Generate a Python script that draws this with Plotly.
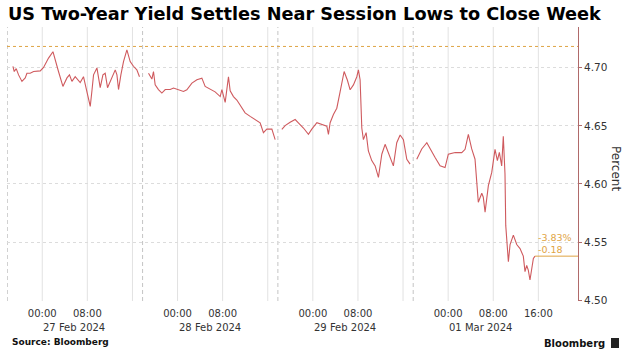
import plotly.graph_objects as go

title = "US Two-Year Yield Settles Near Session Lows to Close Week"

s1_time = ["2024-02-26 18:48","2024-02-26 19:02","2024-02-26 19:23","2024-02-26 19:48","2024-02-26 20:24","2024-02-26 20:59","2024-02-26 21:17","2024-02-26 21:52","2024-02-26 22:28","2024-02-26 23:39",
           "2024-02-27 00:14","2024-02-27 01:07","2024-02-27 01:54","2024-02-27 02:18","2024-02-27 02:53","2024-02-27 03:40","2024-02-27 04:23","2024-02-27 04:50","2024-02-27 05:16","2024-02-27 05:51",
           "2024-02-27 06:44","2024-02-27 07:19","2024-02-27 07:48","2024-02-27 08:13","2024-02-27 08:31","2024-02-27 08:49","2024-02-27 09:06","2024-02-27 09:42","2024-02-27 10:17","2024-02-27 10:46",
           "2024-02-27 11:10","2024-02-27 11:35","2024-02-27 12:04","2024-02-27 12:32","2024-02-27 12:57","2024-02-27 13:15","2024-02-27 13:32","2024-02-27 13:57","2024-02-27 14:25","2024-02-27 15:01",
           "2024-02-27 15:36","2024-02-27 16:11","2024-02-27 16:47","2024-02-27 17:15"]
s1_yield = [4.701,4.6965,4.699,4.6936,4.688,4.691,4.695,4.695,4.6965,4.697,
            4.700,4.708,4.7135,4.706,4.6965,4.6837,4.691,4.6936,4.688,4.692,
            4.687,4.692,4.681,4.674,4.6666,4.680,4.6936,4.6996,4.6826,4.6936,
            4.695,4.6826,4.688,4.6936,4.6979,4.6936,4.681,4.6936,4.705,4.715,
            4.705,4.701,4.698,4.692]

s2_time = ["2024-02-27 18:51","2024-02-27 19:27","2024-02-27 19:44","2024-02-27 20:02","2024-02-27 20:37","2024-02-27 21:13","2024-02-27 21:49","2024-02-27 22:42","2024-02-27 23:17",
           "2024-02-28 00:10","2024-02-28 01:03","2024-02-28 01:39","2024-02-28 02:33","2024-02-28 03:26","2024-02-28 04:19","2024-02-28 04:54","2024-02-28 05:47","2024-02-28 06:40","2024-02-28 07:34",
           "2024-02-28 07:52","2024-02-28 08:27","2024-02-28 08:45","2024-02-28 09:02","2024-02-28 09:20","2024-02-28 09:55","2024-02-28 10:31","2024-02-28 11:25","2024-02-28 11:59","2024-02-28 12:53",
           "2024-02-28 13:46","2024-02-28 14:39","2024-02-28 15:14","2024-02-28 15:50","2024-02-28 16:44","2024-02-28 17:19"]
s2_yield = [4.695,4.690,4.6965,4.685,4.681,4.678,4.681,4.681,4.6823,
            4.681,4.6794,4.6808,4.6865,4.6894,4.6908,4.6837,4.681,4.679,4.675,
            4.681,4.670,4.681,4.692,4.680,4.675,4.672,4.665,4.661,4.658,
            4.655,4.6525,4.644,4.647,4.647,4.638]

s3_time = ["2024-02-28 18:30","2024-02-28 19:05","2024-02-28 19:58","2024-02-28 20:52","2024-02-28 21:26","2024-02-28 22:20","2024-02-28 23:13","2024-02-28 23:49",
           "2024-02-29 00:43","2024-02-29 01:35","2024-02-29 02:29","2024-02-29 02:46","2024-02-29 03:04","2024-02-29 03:39","2024-02-29 04:15","2024-02-29 04:50","2024-02-29 05:33","2024-02-29 06:08",
           "2024-02-29 06:37","2024-02-29 07:12","2024-02-29 07:48","2024-02-29 08:05","2024-02-29 08:23","2024-02-29 08:41","2024-02-29 08:58","2024-02-29 09:27","2024-02-29 09:51","2024-02-29 10:27",
           "2024-02-29 11:03","2024-02-29 11:38","2024-02-29 12:14","2024-02-29 12:49","2024-02-29 13:24","2024-02-29 14:17","2024-02-29 14:53","2024-02-29 15:29","2024-02-29 16:04","2024-02-29 16:40",
           "2024-02-29 17:15"]
s3_yield = [4.6468,4.650,4.653,4.6553,4.6525,4.648,4.6425,4.647,
            4.6525,4.651,4.6496,4.6425,4.6525,4.6596,4.665,4.679,4.6965,4.689,
            4.6808,4.685,4.692,4.6979,4.6894,4.648,4.638,4.644,4.6283,4.620,
            4.6155,4.6056,4.6255,4.634,4.627,4.6155,4.6354,4.642,4.638,4.6212,
            4.617]

s4_time = ["2024-02-29 18:26","2024-02-29 19:19","2024-02-29 20:13","2024-02-29 20:48","2024-02-29 21:41","2024-02-29 22:34","2024-02-29 23:27",
           "2024-03-01 00:02","2024-03-01 01:14","2024-03-01 02:25","2024-03-01 03:00","2024-03-01 03:35","2024-03-01 04:11","2024-03-01 04:46","2024-03-01 05:04","2024-03-01 05:21","2024-03-01 05:58",
           "2024-03-01 06:14","2024-03-01 06:33","2024-03-01 07:08","2024-03-01 07:44","2024-03-01 08:19","2024-03-01 08:44","2024-03-01 09:05","2024-03-01 09:30","2024-03-01 09:47","2024-03-01 10:05",
           "2024-03-01 10:13","2024-03-01 10:41","2024-03-01 10:59","2024-03-01 11:34","2024-03-01 12:10","2024-03-01 12:45","2024-03-01 13:20","2024-03-01 13:38","2024-03-01 13:56","2024-03-01 14:13",
           "2024-03-01 14:31","2024-03-01 15:07","2024-03-01 15:25"]
s4_yield = [4.6212,4.630,4.6354,4.630,4.6226,4.6155,4.614,
            4.6255,4.627,4.6269,4.6297,4.6425,4.630,4.6212,4.5985,4.5843,4.592,
            4.5886,4.5758,4.5985,4.6099,4.6297,4.620,4.627,4.6155,4.641,4.6085,
            4.5644,4.5332,4.548,4.556,4.548,4.5445,4.538,4.5247,4.530,4.526,
            4.5175,4.536,4.538]

sessions = [(s1_time, s1_yield), (s2_time, s2_yield), (s3_time, s3_yield), (s4_time, s4_yield)]

prev_close = 4.718
change_pct_label = "-3.83%"
change_abs_label = "-0.18"

days = ["2024-02-27", "2024-02-28", "2024-02-29", "2024-03-01"]
day_labels = ["27 Feb 2024", "28 Feb 2024", "29 Feb 2024", "01 Mar 2024"]
grid_hours = ["00:00", "08:00", "16:00"]
session_breaks = ["2024-02-26 17:48", "2024-02-27 17:48", "2024-02-28 17:48", "2024-02-29 17:48"]
x_range = ["2024-02-26 17:45", "2024-03-01 23:02"]
y_ticks = [4.50, 4.55, 4.60, 4.65, 4.70]
y_range = [4.4995, 4.7347]

tick_vals, tick_text = [], []
for d in days:
    for h in ["00:00", "08:00"]:
        tick_vals.append(f"{d} {h}")
        tick_text.append(h)
tick_vals.append(f"{days[-1]} 16:00")
tick_text.append("16:00")

LINE = "#cf5a5e"
ORANGE = "#dfa444"
AXIS = "#b06a6a"
TXT = "#333333"
W, H = 631, 357
ML, MR, MT, MB = 7, 53, 27, 56
PW, PH = W - ML - MR, H - MT - MB

def px_x(p):
    return (p - ML) / PW

def px_y(p):
    return (H - MB - p) / PH

fig = go.Figure()

for t, y in sessions:
    fig.add_trace(go.Scatter(x=t, y=y, mode="lines", line=dict(color=LINE, width=1.1),
                             hoverinfo="skip", showlegend=False))

# previous close reference line
fig.add_trace(go.Scatter(x=x_range, y=[prev_close, prev_close], mode="lines",
                         line=dict(color=ORANGE, width=1, dash="dot"), showlegend=False, hoverinfo="skip"))
# last value line
last_t, last_y = s4_time[-1], s4_yield[-1]
fig.add_trace(go.Scatter(x=[last_t, x_range[1]], y=[last_y, last_y], mode="lines",
                         line=dict(color=ORANGE, width=1), showlegend=False, hoverinfo="skip"))

shapes = []
for d in days:
    for h in grid_hours:
        shapes.append(dict(type="line", xref="x", yref="paper", x0=f"{d} {h}", x1=f"{d} {h}",
                           y0=0, y1=1, line=dict(color="#e2e2e2", width=1), layer="below"))
for b in session_breaks:
    shapes.append(dict(type="line", xref="x", yref="paper", x0=b, x1=b, y0=0, y1=1,
                       line=dict(color="#c4c4c4", width=1, dash="4px,3px"), layer="below"))

annotations = []
for d, lab in zip(days, day_labels):
    annotations.append(dict(x=f"{d} 00:00", xref="x", y=px_y(327), yref="paper", text=lab,
                            showarrow=False, xanchor="left", yanchor="middle", xshift=-1,
                            font=dict(family="DejaVu Sans", size=10, color=TXT)))
for v in y_ticks:
    annotations.append(dict(x=px_x(582), xref="paper", y=v, yref="y", text=f"{v:.2f}",
                            showarrow=False, xanchor="left", yanchor="middle",
                            font=dict(family="DejaVu Sans", size=10.5, color=TXT)))
annotations.append(dict(x=last_t, xref="x", y=last_y, yref="y", text=change_pct_label, showarrow=False,
                        xanchor="left", yanchor="middle", xshift=1, yshift=19,
                        font=dict(family="DejaVu Sans", size=9.5, color=ORANGE)))
annotations.append(dict(x=last_t, xref="x", y=last_y, yref="y", text=change_abs_label, showarrow=False,
                        xanchor="left", yanchor="middle", xshift=1, yshift=7,
                        font=dict(family="DejaVu Sans", size=9.5, color=ORANGE)))
annotations.append(dict(x=px_x(616), xref="paper", y=px_y(168), yref="paper", text="Percent",
                        showarrow=False, textangle=90, xanchor="center", yanchor="middle",
                        font=dict(family="DejaVu Sans", size=12, color=TXT)))
annotations.append(dict(x=px_x(10), xref="paper", y=px_y(342), yref="paper", text="<b>Source: Bloomberg</b>",
                        showarrow=False, xanchor="left", yanchor="middle",
                        font=dict(family="DejaVu Sans", size=9, color="#111111")))
annotations.append(dict(x=px_x(607), xref="paper", y=px_y(343), yref="paper", text="<b>Bloomberg</b>",
                        showarrow=False, xanchor="right", yanchor="middle",
                        font=dict(family="DejaVu Sans", size=10, color="#111111")))
shapes.append(dict(type="rect", xref="paper", yref="paper", x0=px_x(611), x1=px_x(619),
                   y0=px_y(348), y1=px_y(338), fillcolor="#222222", line=dict(width=0)))

fig.update_layout(
    width=W, height=H,
    margin=dict(l=ML, r=MR, t=MT, b=MB),
    paper_bgcolor="white", plot_bgcolor="white",
    title=dict(text=title, x=8 / W, xref="container", xanchor="left",
               y=1 - 14 / H, yref="container", yanchor="middle",
               font=dict(family="DejaVu Sans", size=17.7, color="#000000", weight="bold")),
    shapes=shapes, annotations=annotations, showlegend=False,
    xaxis=dict(type="date", range=x_range, tickvals=tick_vals, ticktext=tick_text,
               showgrid=False, zeroline=False, showline=False, ticks="",
               ticklabelstandoff=5,
               tickfont=dict(family="DejaVu Sans", size=10, color=TXT)),
    yaxis=dict(side="right", range=y_range, tickvals=y_ticks, showticklabels=False,
               showgrid=True, gridcolor="#dcdcdc", griddash="dot", gridwidth=1,
               zeroline=False, showline=True, linecolor=AXIS, linewidth=1,
               ticks="outside", ticklen=3, tickcolor=AXIS),
)

fig.write_html("out.html", config={"displayModeBar": False},
               post_script="document.body.style.margin='0';document.body.style.padding='0';")
